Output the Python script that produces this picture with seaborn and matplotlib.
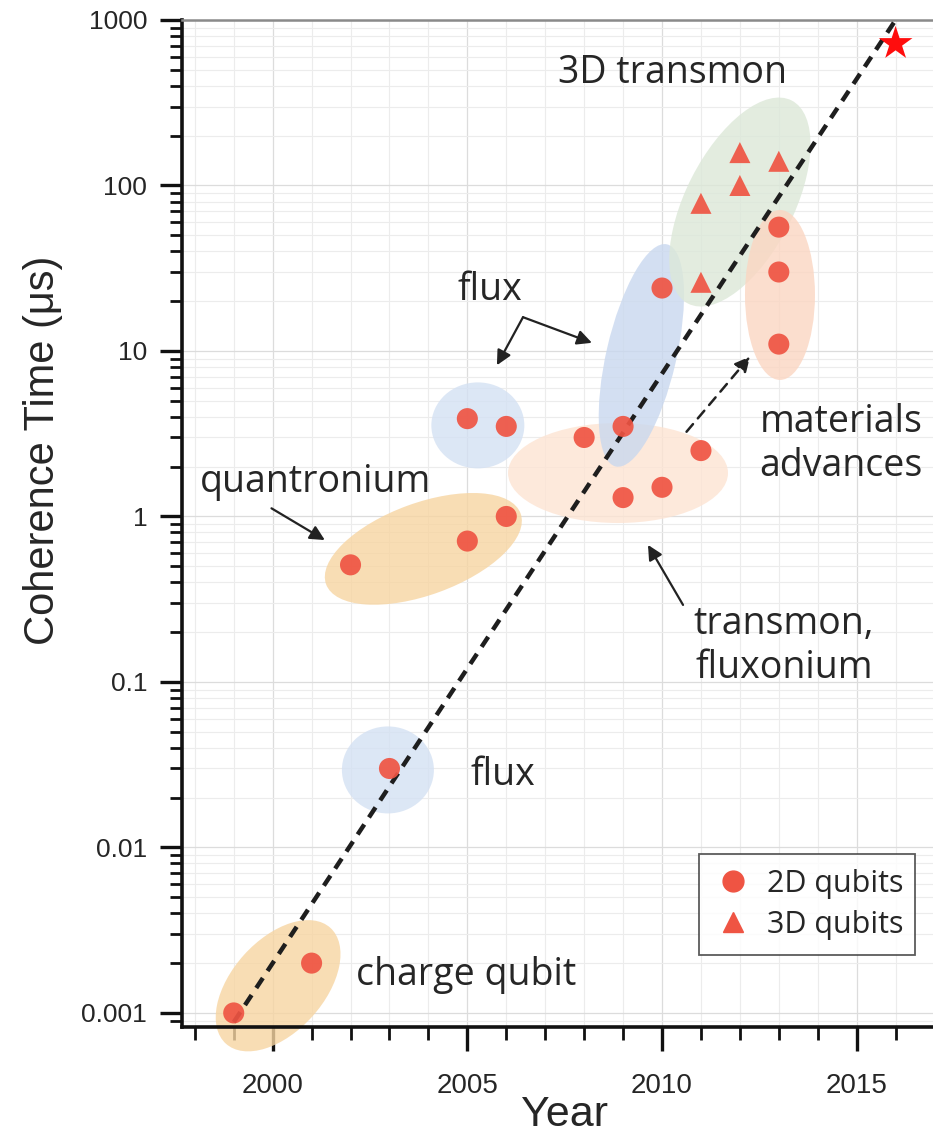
import numpy as np
import pandas as pd
import matplotlib
matplotlib.use("Agg")
import matplotlib.pyplot as plt
import seaborn as sns
from matplotlib.patches import Ellipse
from matplotlib.transforms import ScaledTranslation
from matplotlib.lines import Line2D
from matplotlib.ticker import FixedLocator, MultipleLocator, LogLocator, NullFormatter

# ---------------- data ----------------
years_2d = [1999, 2001, 2002, 2003, 2005, 2005, 2006, 2006, 2008, 2009, 2009,
            2010, 2010, 2011, 2013, 2013, 2013]
coh_2d = [0.001, 0.002, 0.51, 0.03, 0.71, 3.9, 1.0, 3.5, 3.0, 3.5, 1.3,
          1.5, 24, 2.5, 56, 30, 11]
years_3d = [2011, 2011, 2012, 2012, 2013]
coh_3d = [26, 78, 100, 158, 140]
star_year = [2016]
star_coh = [720]
trend_years = [1999, 2016]
trend_coh = [0.00088, 1000]

ytick_vals = [0.001, 0.01, 0.1, 1, 10, 100, 1000]
ytick_labels = ["0.001", "0.01", "0.1", "1", "10", "100", "1000"]
xtick_vals = [2000, 2005, 2010, 2015]
legend_labels = ["2D qubits", "3D qubits"]

# ---------------- style ----------------
sns.set_theme(style="white")
plt.rcParams["font.family"] = ["Liberation Sans", "DejaVu Sans"]
ANN_FONT = ["Open Sans", "DejaVu Sans"]
PT_COLOR = "#ef5443"
TXT = "#262626"

fig = plt.figure(figsize=(9.33, 11.48), dpi=100)
ax = fig.add_axes([0.195, 0.1054, 0.805, 0.8772])
ax.set_yscale("log")
ax.set_xlim(1997.67, 2016.96)
ax.set_ylim(10 ** -3.085, 1000)

# ---------------- shaded regions (ellipses, sizes in px) ----------------
regions = [
    # year, value, width_px, height_px, angle, color
    (2000.14, 0.00146, 156, 92, 48, "#f7d5a2"),
    (2003.87, 0.637, 207, 92, 20, "#f7d5a2"),
    (2002.96, 0.0294, 92, 87, 0, "#d4e1f3"),
    (2005.27, 3.55, 93, 86, 0, "#d4e1f3"),
    (2008.87, 1.83, 220, 100, 0, "#fde4d3"),
    (2009.47, 9.4, 228, 70, 77, "#c9d8ef"),
    (2012.0, 79.4, 228, 108, 63, "#dce8d8"),
    (2013.03, 21.8, 70, 170, 0, "#fbd6c2"),
]
for yr, val, w, h, ang, col in regions:
    tr = fig.dpi_scale_trans + ScaledTranslation(yr, val, ax.transData)
    e = Ellipse((0, 0), w / 100, h / 100, angle=ang, transform=tr,
                facecolor=col, edgecolor="none", alpha=0.8, zorder=1,
                clip_on=False)
    ax.add_patch(e)

# ---------------- data marks ----------------
df = pd.DataFrame({
    "Year": years_2d + years_3d,
    "Coherence": coh_2d + coh_3d,
    "Type": [legend_labels[0]] * len(years_2d) + [legend_labels[1]] * len(years_3d),
})
sns.scatterplot(data=df, x="Year", y="Coherence", style="Type",
                markers={legend_labels[0]: "o", legend_labels[1]: "^"},
                color=PT_COLOR, s=230, edgecolor="none", alpha=0.92,
                legend=False, ax=ax, zorder=4)

ax.plot(trend_years, trend_coh, color="#1e1e1e", lw=3.2,
        linestyle=(0, (2.7, 1.9)), zorder=3, clip_on=False)
ax.scatter(star_year, star_coh, marker="*", s=650, color="#ff0d0d",
           edgecolor="none", zorder=5, clip_on=False)

# ---------------- annotations ----------------
def label(x, y, s, size=27):
    ax.text(x, y, s, ha="center", va="center", fontsize=size,
            family=ANN_FONT, color=TXT, zorder=6, linespacing=1.2)

def arrow(tail, head, ls="-", lw=1.6):
    ax.annotate("", xy=head, xytext=tail,
                arrowprops=dict(arrowstyle="-|>", color="#222222", lw=lw,
                                linestyle=ls, mutation_scale=22,
                                shrinkA=0, shrinkB=0), zorder=6)

label(2010.26, 479, "3D transmon")
label(2005.59, 23.4, "flux")
label(2001.11, 1.61, "quantronium")
label(2005.92, 0.0274, "flux")
label(2004.97, 0.0017, "charge qubit")
label(2014.6, 2.74, "materials\nadvances")
label(2013.13, 0.165, "transmon,\nfluxonium")

arrow((2006.43, 16.0), (2005.76, 8.2))
arrow((2006.43, 16.0), (2008.20, 11.2))
arrow((1999.97, 1.12), (2001.34, 0.72))
arrow((2010.54, 0.292), (2009.64, 0.673))
arrow((2010.63, 3.25), (2012.26, 9.25), ls=(0, (4, 3)), lw=1.8)

# ---------------- axes styling ----------------
ax.yaxis.set_major_locator(FixedLocator(ytick_vals))
ax.set_yticklabels(ytick_labels)
ax.yaxis.set_minor_locator(LogLocator(base=10, subs=np.arange(2, 10)))
ax.yaxis.set_minor_formatter(NullFormatter())
ax.xaxis.set_major_locator(FixedLocator(xtick_vals))
ax.set_xticklabels([str(v) for v in xtick_vals])
ax.xaxis.set_minor_locator(MultipleLocator(1))

ax.tick_params(which="major", direction="out", length=16, width=2.4,
               color="#111111", labelsize=19, labelcolor=TXT, pad=9,
               left=True, bottom=True, top=False, right=False)
ax.tick_params(axis="x", which="major", length=17, labelsize=20, pad=16)
ax.tick_params(which="minor", direction="out", length=9, width=2.0,
               color="#111111", left=True, bottom=True, top=False, right=False)

ax.set_axisbelow(True)
ax.grid(which="major", color="#dcdcdc", lw=0.9)
ax.grid(which="minor", color="#ececec", lw=0.8)

for side in ["left", "bottom"]:
    ax.spines[side].set_color("#111111")
    ax.spines[side].set_linewidth(2.6)
ax.spines["top"].set_color("#8a8a8a")
ax.spines["top"].set_linewidth(1.8)
ax.spines["right"].set_visible(False)

ax.set_xlabel("Year", fontsize=31, color=TXT)
ax.xaxis.set_label_coords(0.51, -0.068)
ax.set_ylabel("Coherence Time (\u03bcs)", fontsize=30, color=TXT)
ax.yaxis.set_label_coords(-0.158, 0.573)

# ---------------- legend ----------------
handles = [
    Line2D([], [], marker="o", ls="none", color=PT_COLOR, markersize=15),
    Line2D([], [], marker="^", ls="none", color=PT_COLOR, markersize=15),
]
leg = ax.legend(handles, legend_labels, loc="lower left",
                bbox_to_anchor=(0.689, 0.0715, 0.287, 0.10), mode="expand",
                borderaxespad=0, frameon=True, fancybox=False,
                edgecolor="#333333",
                prop={"family": ANN_FONT, "size": 22},
                handletextpad=0.5, borderpad=0.5, labelspacing=0.35,
                handlelength=1.2)
leg.get_frame().set_linewidth(1.3)
leg.set_zorder(7)

fig.savefig("out.png", dpi=100)
